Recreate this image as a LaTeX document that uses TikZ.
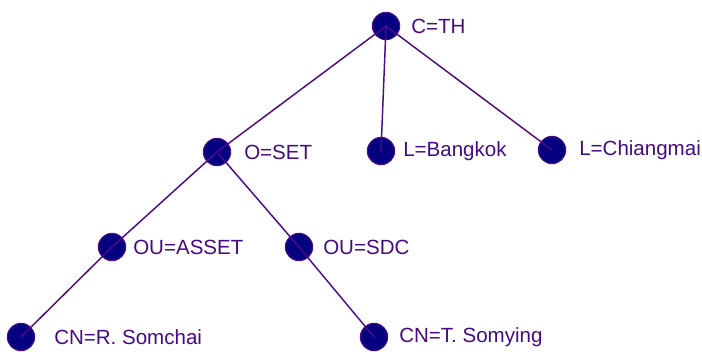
\documentclass[tikz,border=0pt]{standalone}
\usepackage{fontspec}
\setmainfont{Liberation Sans}

\definecolor{dotfill}{RGB}{5,0,128}
\definecolor{edgeline}{RGB}{75,10,135}
\definecolor{tagtext}{RGB}{70,10,130}

\begin{document}
\begin{tikzpicture}[x=0.75pt, y=-0.75pt,
        dot/.style={circle, fill=dotfill, draw=edgeline, line width=0.8pt, inner sep=0pt, minimum size=20.5pt},
        tag/.style={anchor=west, inner sep=0pt, text=tagtext, font=\fontsize{15.4}{18}\selectfont},
        branch/.style={edgeline, line width=1.1pt}]
            \useasboundingbox (0,0) rectangle (702,351);

            \node[dot] (th) at (386,26) {};
            \node[dot] (set) at (217,152) {};
            \node[dot] (bkk) at (381,151) {};
            \node[dot] (cnx) at (552,150) {};
            \node[dot] (asset) at (112,247) {};
            \node[dot] (sdc) at (299,247) {};
            \node[dot] (somchai) at (21,337) {};
            \node[dot] (somying) at (374,337) {};

            \node[tag] (thtag) at (411,26) {C=TH};
            \node[tag] (settag) at (244,152) {O=SET};
            \node[tag] (bkktag) at (403,151) {L=Bangkok};
            \node[tag] (cnxtag) at (579,150) {L=Chiangmai};
            \node[tag] (assettag) at (133,247) {OU=ASSET};
            \node[tag] (sdctag) at (323,247) {OU=SDC};
            \node[tag] (somchaitag) at (54,337) {CN=R. Somchai};
            \node[tag] (somyingtag) at (399,337) {CN=T. Somying};

            % tree edges run into the centres of the dots
            \draw[branch] (th.center) -- (set.center);
            \draw[branch] (th.center) -- (bkk.center);
            \draw[branch] (th.center) -- (cnx.center);
            \draw[branch] (set.center) -- (asset.center);
            \draw[branch] (set.center) -- (sdc.center);
            \draw[branch] (asset.center) -- (somchai.center);
            \draw[branch] (sdc.center) -- (somying.center);
        \end{tikzpicture}
\end{document}
